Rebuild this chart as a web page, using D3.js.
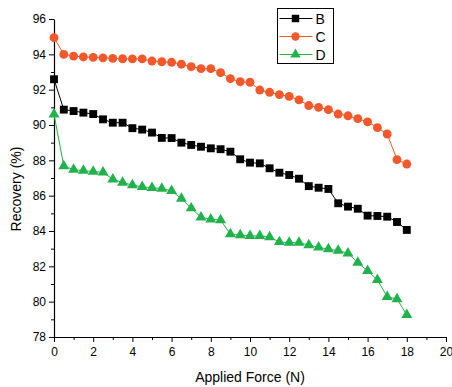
<!DOCTYPE html>
<html>
<head>
<meta charset="utf-8">
<script src="https://cdn.jsdelivr.net/npm/d3@7"></script>
<style>
  body { margin: 0; background: #fff; }
  text { font-family: "Liberation Sans", Arial, sans-serif; }
</style>
</head>
<body>
<div id="chart"></div>
<script>
// force steps (N)
var force = d3.range(0, 18.01, 0.5)

var seriesB = [92.59, 90.87, 90.79, 90.70, 90.62, 90.32, 90.13, 90.13, 89.82, 89.74, 89.57, 89.27, 89.26, 89.00, 88.87, 88.77, 88.68, 88.63, 88.49, 88.06, 87.87, 87.83, 87.55, 87.30, 87.17, 86.96, 86.54, 86.45, 86.38, 85.57, 85.38, 85.26, 84.87, 84.85, 84.81, 84.51, 84.06]
var seriesC = [94.94, 94.00, 93.90, 93.85, 93.83, 93.80, 93.77, 93.75, 93.74, 93.74, 93.62, 93.58, 93.55, 93.44, 93.30, 93.19, 93.19, 92.96, 92.62, 92.45, 92.42, 91.98, 91.85, 91.72, 91.62, 91.42, 91.10, 91.00, 90.87, 90.62, 90.52, 90.36, 90.18, 89.85, 89.49, 88.04, 87.79]
var seriesD = [90.60, 87.68, 87.47, 87.42, 87.36, 87.32, 86.93, 86.74, 86.60, 86.50, 86.45, 86.40, 86.27, 85.83, 85.29, 84.78, 84.66, 84.62, 83.82, 83.77, 83.72, 83.72, 83.66, 83.38, 83.34, 83.34, 83.20, 83.08, 82.97, 82.89, 82.74, 82.21, 81.74, 81.23, 80.28, 80.15, 79.25]

var names = ["B", "C", "D"]
var colors = ["#000000", "#f2582a", "#22b24c"]
var symbols = [d3.symbolSquare, d3.symbolCircle, d3.symbolTriangle]
var symSize = [62, 62, 52]

var xTicks = d3.range(0, 21, 2)
var yTicks = d3.range(78, 97, 2)

var width = 452
    height = 387
    margin = {left: 54, right: 6, top: 19, bottom: 50}

var svg = d3.select("#chart")
  .append("svg")
    .attr("width", width)
    .attr("height", height)

var x = d3.scaleLinear().domain([0, 20]).range([margin.left, width - margin.right])
var y = d3.scaleLinear().domain([78, 96]).range([height - margin.bottom, margin.top])

// minor ticks
svg.append("g")
  .attr("transform", "translate(0," + y(78) + ")")
  .call(d3.axisBottom(x).tickValues(d3.range(1, 20, 2)).tickSize(3).tickFormat(""))
  .call(g => g.select(".domain").remove())
svg.append("g")
  .attr("transform", "translate(" + x(0) + ",0)")
  .call(d3.axisLeft(y).tickValues(d3.range(79, 96, 2)).tickSize(3).tickFormat(""))
  .call(g => g.select(".domain").remove())

// major axes
var xAxis = svg.append("g")
  .attr("transform", "translate(0," + y(78) + ")")
  .call(d3.axisBottom(x).tickValues(xTicks).tickSize(5).tickSizeOuter(0))
xAxis.selectAll("text").attr("font-size", 12).attr("dy", "0.9em").attr("font-family", "Liberation Sans, Arial, sans-serif")

var yAxis = svg.append("g")
  .attr("transform", "translate(" + x(0) + ",0)")
  .call(d3.axisLeft(y).tickValues(yTicks).tickSize(5).tickSizeOuter(0))
yAxis.selectAll("text").attr("font-size", 12).attr("font-family", "Liberation Sans, Arial, sans-serif")

svg.selectAll(".domain").attr("stroke-width", 1.2)

svg.append("text")
  .attr("x", x(10))
  .attr("y", 382)
  .attr("text-anchor", "middle")
  .attr("font-size", 14)
  .text("Applied Force (N)")

svg.append("text")
  .attr("transform", "translate(21,189) rotate(-90)")
  .attr("text-anchor", "middle")
  .attr("font-size", 14)
  .text("Recovery (%)")

var allSeries = [seriesB, seriesC, seriesD]

var line = d3.line()
  .x(function(d, i) { return x(force[i]) })
  .y(function(d) { return y(d) })

allSeries.forEach(function(vals, k) {
  svg.append("path")
    .datum(vals)
    .attr("fill", "none")
    .attr("stroke", colors[k])
    .attr("stroke-width", 1)
    .attr("d", line)

  svg.append("g").selectAll("path")
    .data(vals)
    .enter()
    .append("path")
    .attr("d", d3.symbol().type(symbols[k]).size(symSize[k]))
    .attr("transform", function(d, i) { return "translate(" + x(force[i]) + "," + y(d) + ")" })
    .attr("fill", colors[k])
})

// legend
var legend = svg.append("g").attr("transform", "translate(277.5,8.5)")
legend.append("rect")
  .attr("width", 56)
  .attr("height", 55)
  .attr("fill", "#fff")
  .attr("stroke", "#000")
  .attr("stroke-width", 1)

names.forEach(function(n, k) {
  var ly = 10 + k * 18
  legend.append("line")
    .attr("x1", 2).attr("x2", 35)
    .attr("y1", ly).attr("y2", ly)
    .attr("stroke", colors[k])
  legend.append("path")
    .attr("d", d3.symbol().type(symbols[k]).size(symSize[k] * 0.9))
    .attr("transform", "translate(18," + ly + ")")
    .attr("fill", colors[k])
  legend.append("text")
    .attr("x", 38)
    .attr("y", ly + 5)
    .attr("font-size", 14)
    .text(n)
})
</script>
</body>
</html>
